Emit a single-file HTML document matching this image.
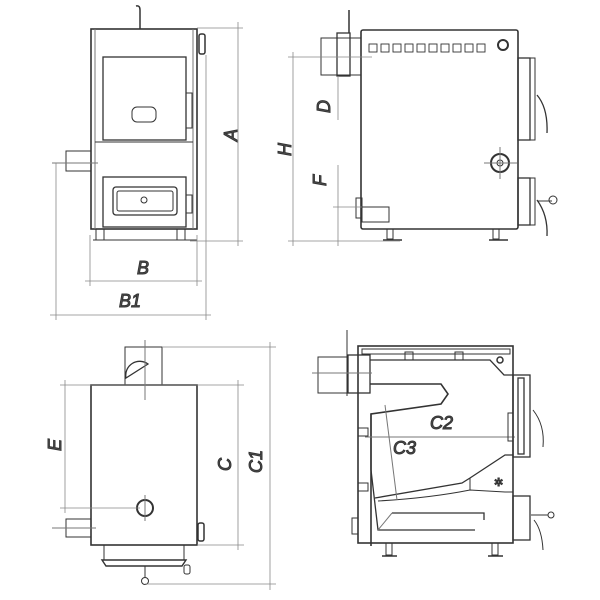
<!DOCTYPE html>
<html><head><meta charset="utf-8"><style>body{margin:0;background:#fff}svg{display:block}text{font-family:"Liberation Sans",sans-serif;font-style:italic;font-weight:normal;fill:#555;font-size:18px}</style></head><body>
<svg width="600" height="600" viewBox="0 0 600 600" fill="none" stroke="#333" stroke-width="1">
<!-- Q1 front view -->
<g>
<path d="M140 29 V10 Q140 5 136 6" stroke-width="1.5"/>
<rect x="91" y="29" width="106" height="200" stroke-width="1.6"/>
<line x1="95" y1="29" x2="95" y2="229" stroke="#777"/>
<line x1="193" y1="29" x2="193" y2="229" stroke="#777"/>
<rect x="103" y="57" width="83" height="83" stroke-width="1.3"/>
<rect x="186" y="93" width="6" height="35"/>
<rect x="132" y="107" width="24" height="15" rx="5"/>
<line x1="95" y1="142" x2="193" y2="142"/>
<rect x="103" y="177" width="83" height="50" stroke-width="1.3"/>
<rect x="113" y="187" width="64" height="28" rx="3" stroke-width="1.3"/>
<rect x="117" y="191" width="56" height="20" rx="2"/>
<circle cx="144" cy="200" r="3"/>
<rect x="186" y="195" width="6" height="18"/>
<rect x="66" y="151" width="25" height="20"/>
<line x1="52" y1="163" x2="98" y2="163" stroke="#777"/>
<rect x="199" y="34" width="6" height="20" rx="2" stroke-width="1.5"/>
<rect x="96" y="229" width="8" height="11"/><rect x="177" y="229" width="8" height="11"/>
<line x1="93" y1="240" x2="197" y2="240"/>
<g stroke="#888" stroke-width="0.8">
<line x1="197" y1="28" x2="243" y2="28"/><line x1="190" y1="241" x2="243" y2="241"/>
<line x1="238" y1="22" x2="238" y2="246"/>
<line x1="90" y1="235" x2="90" y2="286"/><line x1="197" y1="235" x2="197" y2="286"/>
<line x1="85" y1="281" x2="202" y2="281"/>
<line x1="56" y1="163" x2="56" y2="320"/><line x1="206" y1="55" x2="206" y2="320"/>
<line x1="50" y1="315" x2="211" y2="315"/>
</g>
<text x="225" y="145" transform="rotate(-90 229 137)">A</text>
<text x="137" y="274">B</text>
<text x="119" y="307">B1</text>
</g>
<!-- Q2 side view -->
<g>
<rect x="361" y="30" width="157" height="199" rx="2" stroke-width="1.6"/>
<line x1="349" y1="10" x2="349" y2="33" stroke-width="1.5"/>
<rect x="321" y="38" width="40" height="37"/>
<rect x="337" y="33" width="13" height="43" stroke-width="1.3"/>
<g stroke-width="0.9">
<rect x="369" y="44" width="8" height="8"/><rect x="381" y="44" width="8" height="8"/><rect x="393" y="44" width="8" height="8"/><rect x="405" y="44" width="8" height="8"/><rect x="417" y="44" width="8" height="8"/><rect x="429" y="44" width="8" height="8"/><rect x="441" y="44" width="8" height="8"/><rect x="453" y="44" width="8" height="8"/><rect x="465" y="44" width="8" height="8"/><rect x="477" y="44" width="8" height="8"/>
</g>
<circle cx="503" cy="45" r="5" stroke-width="2"/>
<rect x="518" y="58" width="12" height="82" stroke-width="1.3"/><rect x="530" y="58" width="5" height="82"/>
<path d="M537 95 Q548 108 547 133" stroke-width="1.3"/>
<circle cx="500" cy="163" r="9" stroke-width="2"/><circle cx="500" cy="163" r="3"/>
<line x1="484" y1="163" x2="517" y2="163" stroke="#777"/><line x1="500" y1="147" x2="500" y2="179" stroke="#777"/>
<rect x="518" y="178" width="12" height="47" stroke-width="1.3"/><rect x="530" y="178" width="5" height="47"/>
<path d="M537 200 Q548 215 547 236" stroke-width="1.3"/><line x1="538" y1="201" x2="552" y2="201"/><circle cx="553" cy="200" r="4"/>
<rect x="362" y="207" width="27" height="15"/><rect x="356" y="198" width="6" height="20"/>
<rect x="387" y="229" width="6" height="10"/><line x1="383" y1="240" x2="402" y2="240" stroke-width="1.5"/>
<rect x="493" y="229" width="6" height="10"/><line x1="489" y1="240" x2="508" y2="240" stroke-width="1.5"/>
<g stroke="#888" stroke-width="0.8">
<line x1="288" y1="57" x2="372" y2="57"/><line x1="288" y1="241" x2="400" y2="241"/>
<line x1="293" y1="52" x2="293" y2="246"/>
<line x1="338" y1="76" x2="338" y2="120"/><line x1="338" y1="165" x2="338" y2="246"/>
<line x1="333" y1="207" x2="362" y2="207"/>
</g>
<text x="279" y="156" transform="rotate(-90 285 150)">H</text>
<text x="318" y="113" transform="rotate(-90 324 107)">D</text>
<text x="314" y="186" transform="rotate(-90 320 180)">F</text>
</g>
<!-- Q3 top view -->
<g>
<rect x="91" y="385" width="106" height="160" stroke-width="1.6"/>
<rect x="125" y="347" width="37" height="38"/>
<path d="M126 378 A14 14 0 0 1 148 364 Z" stroke-width="1.3"/>
<line x1="145" y1="340" x2="145" y2="400" stroke="#777"/>
<circle cx="145" cy="508" r="8" stroke-width="2"/>
<line x1="145" y1="495" x2="145" y2="521" stroke="#777"/>
<rect x="66" y="519" width="25" height="18"/><line x1="52" y1="528" x2="96" y2="528" stroke="#777"/>
<rect x="198" y="523" width="6" height="18" rx="2" stroke-width="1.5"/>
<rect x="104" y="545" width="80" height="15"/>
<path d="M102 560 H186 L182 566 H106 Z" stroke-width="1.4"/>
<line x1="145" y1="566" x2="145" y2="578"/><circle cx="145" cy="581" r="3.5"/>
<rect x="184" y="565" width="6" height="9" rx="2"/>
<g stroke="#888" stroke-width="0.8">
<line x1="162" y1="347" x2="276" y2="347"/><line x1="270" y1="342" x2="270" y2="590"/>
<line x1="145" y1="584" x2="276" y2="584"/>
<line x1="60" y1="385" x2="244" y2="385"/><line x1="238" y1="380" x2="238" y2="550"/>
<line x1="197" y1="545" x2="244" y2="545"/>
<line x1="65" y1="380" x2="65" y2="513"/><line x1="60" y1="508" x2="140" y2="508"/>
</g>
<text x="49" y="451" transform="rotate(-90 55 445)">E</text>
<text x="219" y="471" transform="rotate(-90 225 465)">C</text>
<text x="248" y="471" transform="rotate(-90 256 465)">C1</text>
</g>
<!-- Q4 section -->
<g>
<rect x="358" y="346" width="155" height="197" stroke-width="1.6"/>
<rect x="362" y="349" width="148" height="5"/>
<line x1="347" y1="330" x2="347" y2="396"/>
<rect x="318" y="357" width="30" height="36"/><rect x="348" y="355" width="22" height="38" stroke-width="1.3"/>
<line x1="312" y1="373" x2="372" y2="373" stroke="#777"/>
<rect x="405" y="352" width="8" height="8"/><rect x="455" y="352" width="8" height="8"/>
<path d="M370 360 H490 L504 375 H513" stroke-width="1.3"/>
<circle cx="500" cy="360" r="3" stroke-width="1.5"/>
<path d="M370 384 H441 L448 394 L441 404 L371 414 V546" stroke-width="1.6"/>
<path d="M371 414 V470 L378 530 H475" stroke-width="1.3"/>
<path d="M375 498 L462 483 L470 478 L505 455 H513" stroke-width="1.3"/>
<path d="M378 501 Q430 498 470 490 L505 492 H513" stroke-width="1.1"/>
<path d="M470 478 L470 490"/>
<path d="M392 513 H484 V520" stroke-width="1.3"/>
<path d="M378 530 L392 513" stroke="#777"/>
<line x1="385" y1="405" x2="397" y2="500" stroke="#777"/>
<line x1="365" y1="437" x2="515" y2="437" stroke="#777"/>
<rect x="358" y="428" width="10" height="8"/><rect x="358" y="483" width="10" height="8"/>
<rect x="352" y="518" width="6" height="16"/>
<rect x="513" y="375" width="17" height="82" stroke-width="1.3"/><rect x="518" y="378" width="6" height="76" stroke-width="1.3"/>
<rect x="508" y="413" width="5" height="28"/>
<path d="M533 410 Q545 425 543 447"/>
<rect x="513" y="496" width="17" height="44" stroke-width="1.3"/>
<line x1="531" y1="515" x2="548" y2="515"/><circle cx="551" cy="515" r="3"/>
<path d="M534 520 Q542 530 543 550"/>
<text x="494" y="486" style="font-size:11px;font-style:normal">✲</text>
<rect x="386" y="543" width="6" height="12"/><line x1="382" y1="556" x2="397" y2="556" stroke-width="1.5"/>
<rect x="492" y="543" width="6" height="12"/><line x1="488" y1="556" x2="503" y2="556" stroke-width="1.5"/>
<text x="430" y="429">C2</text>
<text x="393" y="454">C3</text>
</g>
</svg>
</body></html>
